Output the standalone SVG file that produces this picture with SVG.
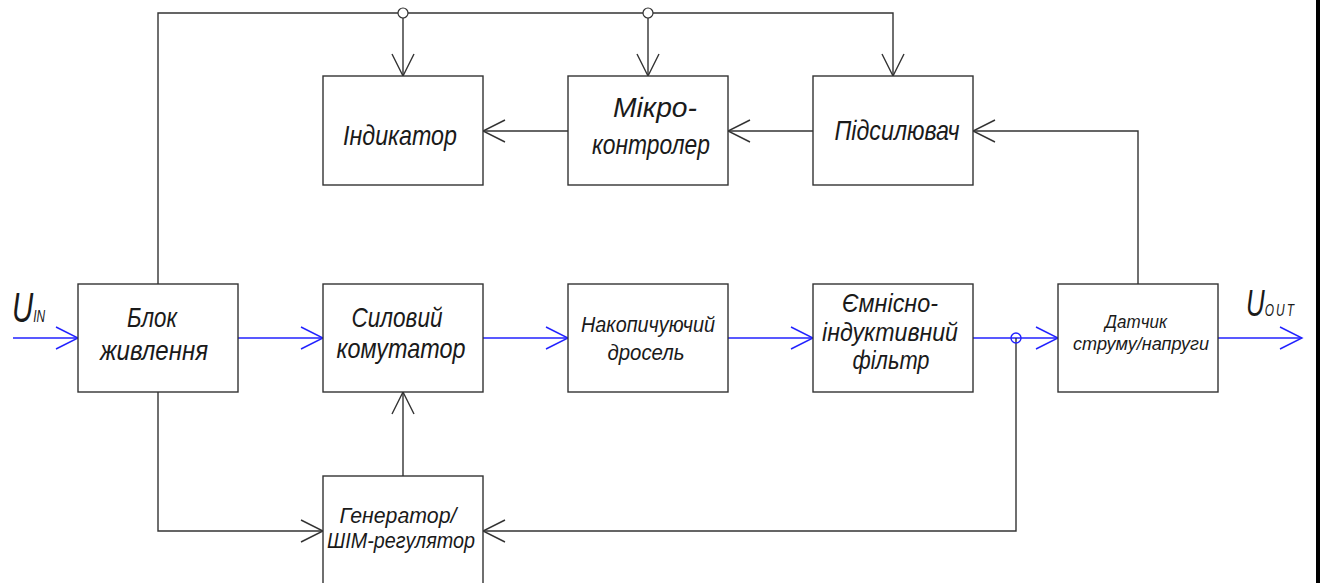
<svg xmlns="http://www.w3.org/2000/svg" width="1320" height="583" viewBox="0 0 1320 583">
<style>
.box{fill:#fff;stroke:#333;stroke-width:1.4}
.ln{fill:none;stroke:#333;stroke-width:1.4}
.bl{fill:none;stroke:#2222ff;stroke-width:1.4}
.jk{fill:#fff;stroke:#333;stroke-width:1.2}
.jb{fill:none;stroke:#2222ff;stroke-width:1.4}
text{font-family:"Liberation Sans",Arial,sans-serif;font-style:italic;fill:#1a1a1a;text-anchor:middle}
.t{font-size:28px}
.m{font-size:25px}
.g{font-size:22px}
.s{font-size:22px}
.xs{font-size:18px}
.u{text-anchor:start}
</style>
<defs>
<marker id="ak" markerUnits="userSpaceOnUse" markerWidth="30" markerHeight="30" viewBox="-25 -15 30 30" refX="0" refY="0" orient="auto">
<path d="M-22,-11 L0,0 L-22,11" fill="none" stroke="#333" stroke-width="1.4"/>
</marker>
<marker id="ab" markerUnits="userSpaceOnUse" markerWidth="30" markerHeight="30" viewBox="-25 -15 30 30" refX="0" refY="0" orient="auto">
<path d="M-22,-11 L0,0 L-22,11" fill="none" stroke="#2222ff" stroke-width="1.4"/>
</marker>
</defs>
<rect x="0" y="0" width="1320" height="583" fill="#fff"/>
<rect x="1316" y="0" width="4" height="583" fill="#000"/>

<g id="connectors">
<polyline class="ln" points="158,284 158,13 893,13 893,76" marker-end="url(#ak)"/>
<line class="ln" x1="403" y1="13" x2="403" y2="76" marker-end="url(#ak)"/>
<line class="ln" x1="648" y1="13" x2="648" y2="76" marker-end="url(#ak)"/>
<circle class="jk" cx="403" cy="13" r="5"/>
<circle class="jk" cx="648" cy="13" r="5"/>
<line class="ln" x1="568" y1="131" x2="483" y2="131" marker-end="url(#ak)"/>
<line class="ln" x1="813" y1="131" x2="728" y2="131" marker-end="url(#ak)"/>
<polyline class="ln" points="1138,284 1138,131 973,131" marker-end="url(#ak)"/>
<line class="bl" x1="13" y1="338" x2="78" y2="338" marker-end="url(#ab)"/>
<line class="bl" x1="238" y1="338" x2="323" y2="338" marker-end="url(#ab)"/>
<line class="bl" x1="483" y1="338" x2="568" y2="338" marker-end="url(#ab)"/>
<line class="bl" x1="728" y1="338" x2="813" y2="338" marker-end="url(#ab)"/>
<line class="bl" x1="973" y1="338" x2="1058" y2="338" marker-end="url(#ab)"/>
<line class="bl" x1="1218" y1="338" x2="1302" y2="338" marker-end="url(#ab)"/>
<polyline class="ln" points="1016,338 1016,531 483,531" marker-end="url(#ak)"/>
<circle class="jb" cx="1016" cy="338" r="5"/>
<polyline class="ln" points="158,392 158,531 323,531" marker-end="url(#ak)"/>
<line class="ln" x1="403" y1="476" x2="403" y2="392" marker-end="url(#ak)"/>
</g>

<g id="labels">
<text class="u" transform="translate(12,322) scale(0.7,1)" x="0" y="0" font-size="42">U<tspan font-size="17">IN</tspan></text>
<text class="u" transform="translate(1246,316) scale(0.7,1)" x="0" y="0" font-size="37">U<tspan font-size="17" letter-spacing="3">OUT</tspan></text>
</g>

<g id="blok">
<rect class="box" x="78" y="284" width="160" height="108"/>
<text class="t" x="152" y="327" textLength="50" lengthAdjust="spacingAndGlyphs">Блок</text>
<text class="t" x="154" y="360" textLength="108" lengthAdjust="spacingAndGlyphs">живлення</text>
</g>
<g id="sylovyi">
<rect class="box" x="323" y="284" width="160" height="108"/>
<text class="t" x="397" y="327" textLength="91" lengthAdjust="spacingAndGlyphs">Силовий</text>
<text class="t" x="401" y="358" textLength="129" lengthAdjust="spacingAndGlyphs">комутатор</text>
</g>
<g id="drosel">
<rect class="box" x="568" y="284" width="160" height="108"/>
<text class="s" x="648" y="332" textLength="134" lengthAdjust="spacingAndGlyphs">Накопичуючий</text>
<text class="s" x="646" y="360" textLength="77" lengthAdjust="spacingAndGlyphs">дросель</text>
</g>
<g id="filtr">
<rect class="box" x="813" y="284" width="160" height="108"/>
<text class="m" x="890" y="312" textLength="96" lengthAdjust="spacingAndGlyphs">Ємнісно-</text>
<text class="m" x="890" y="341" textLength="136" lengthAdjust="spacingAndGlyphs">індуктивний</text>
<text class="m" x="891" y="369" textLength="77" lengthAdjust="spacingAndGlyphs">фільтр</text>
</g>
<g id="datchyk">
<rect class="box" x="1058" y="284" width="160" height="108"/>
<text class="xs" x="1136" y="328" textLength="62" lengthAdjust="spacingAndGlyphs">Датчик</text>
<text class="xs" x="1141" y="350" textLength="136" lengthAdjust="spacingAndGlyphs">струму/напруги</text>
</g>
<g id="indykator">
<rect class="box" x="323" y="76" width="160" height="109"/>
<text class="t" x="400" y="145" textLength="114" lengthAdjust="spacingAndGlyphs">Індикатор</text>
</g>
<g id="mikrokontroler">
<rect class="box" x="568" y="76" width="160" height="109"/>
<text class="t" x="655" y="117" textLength="84" lengthAdjust="spacingAndGlyphs">Мікро-</text>
<text class="t" x="651" y="154" textLength="118" lengthAdjust="spacingAndGlyphs">контролер</text>
</g>
<g id="pidsyliuvach">
<rect class="box" x="813" y="76" width="160" height="109"/>
<text class="t" x="897" y="140" textLength="125" lengthAdjust="spacingAndGlyphs">Підсилювач</text>
</g>
<g id="heneratot">
<rect class="box" x="323" y="476" width="160" height="115"/>
<text class="g" x="398" y="523" textLength="117" lengthAdjust="spacingAndGlyphs">Генератор/</text>
<text class="g" x="401" y="548" textLength="148" lengthAdjust="spacingAndGlyphs">ШІМ-регулятор</text>
</g>
</svg>
